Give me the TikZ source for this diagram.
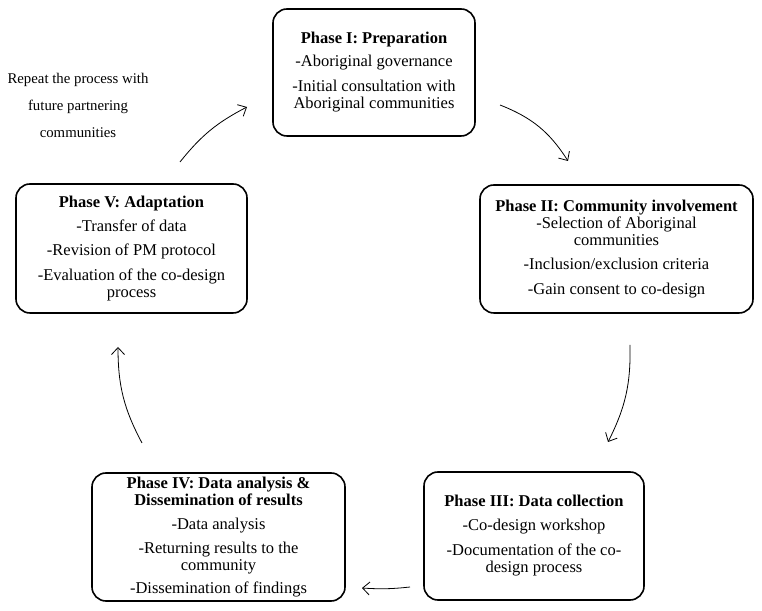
\documentclass[tikz,border=0pt]{standalone}
\usepackage{fontspec}
\setmainfont{Liberation Serif}
\usetikzlibrary{arrows.meta}

\tikzset{
    phase/.style = {draw, line width = 1.6bp, rounded corners = 14bp, align = center,
        inner sep = 0pt, font = \fontsize{16.5bp}{17bp}\selectfont},
    flow/.style = {-{Straight Barb[length = 7bp, width = 13bp]}, line width = 0.8bp}
}

\begin{document}
\begin{tikzpicture}[x = 1bp, y = 1bp]
\useasboundingbox (0,0) rectangle (762,611);

    % Phases
\node[phase, minimum width = 202bp, minimum height = 127bp] (p1) at (374,538.5)
    {\textbf{Phase I: Preparation}\\[6bp] -Aboriginal governance\\[8bp]
     -Initial consultation with\\ Aboriginal communities};

\node[phase, minimum width = 273bp, minimum height = 128bp] (p2) at (616.5,362)
    {\textbf{Phase II: Community involvement}\\ -Selection of Aboriginal\\ communities\\[7bp]
     -Inclusion/exclusion criteria\\[8bp] -Gain consent to co-design};

\node[phase, minimum width = 220bp, minimum height = 128bp] (p3) at (534,75)
    {\textbf{Phase III: Data collection}\\[7bp] -Co-design workshop\\[8bp]
     -Documentation of the co-\\ design process};

\node[phase, minimum width = 253bp, minimum height = 128bp] (p4) at (218.5,74)
    {\textbf{Phase IV: Data analysis \&}\\ \textbf{Dissemination of results}\\[7bp]
     -Data analysis\\[7bp] -Returning results to the\\ community\\[6bp]
     -Dissemination of findings};

\node[phase, minimum width = 231bp, minimum height = 129bp] (p5) at (131.5,362.5)
    {\textbf{Phase V: Adaptation}\\[7bp] -Transfer of data\\[7bp]
     -Revision of PM protocol\\[8bp] -Evaluation of the co-design\\ process};

\node[align = center, font = \fontsize{14.8bp}{27bp}\selectfont] (repeat) at (78,506)
    {Repeat the process with\\ future partnering\\ communities};

    % Arrow ends
\coordinate (a1) at (180,449);
\coordinate (b1) at (247,504);
\coordinate (a2) at (500,506);
\coordinate (b2) at (568,450);
\coordinate (a3) at (630,266);
\coordinate (b3) at (608,169);
\coordinate (a4) at (410,24);
\coordinate (b4) at (362,23);
\coordinate (a5) at (142,168);
\coordinate (b5) at (118,264);

\draw[flow] (a1) to[bend left = 12] (b1);
\draw[flow] (a2) to[bend left = 18] (b2);
\draw[flow] (a3) to[bend left = 14] (b3);
\draw[flow] (a4) to[bend left = 5] (b4);
\draw[flow] (a5) to[bend left = 14] (b5);

\end{tikzpicture}
\end{document}
